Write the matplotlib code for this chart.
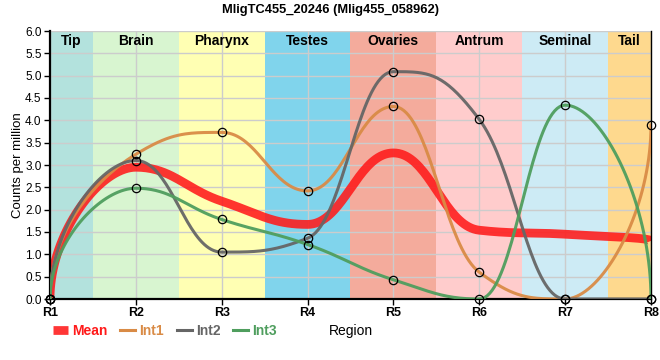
import numpy as np
import matplotlib
matplotlib.use('Agg')
import matplotlib.pyplot as plt
from matplotlib.lines import Line2D

plt.rcParams['font.family'] = ['Liberation Sans', 'DejaVu Sans']

# data
regions = ['R1', 'R2', 'R3', 'R4', 'R5', 'R6', 'R7', 'R8']
mean_cpm = [0.0, 2.95, 2.19, 1.67, 3.27, 1.54, 1.45, 1.30]
int1 = [0.0, 3.24, 3.73, 2.42, 4.31, 0.60, 0.0, 3.89]
int2 = [0.0, 3.10, 1.05, 1.36, 5.09, 4.02, 0.0, 0.0]
int3 = [0.0, 2.48, 1.78, 1.22, 0.43, 0.0, 4.34, 0.0]

band_names = ['Tip', 'Brain', 'Pharynx', 'Testes', 'Ovaries', 'Antrum', 'Seminal', 'Tail']
band_edges = [0, 0.5, 1.5, 2.5, 3.5, 4.5, 5.5, 6.5, 7]
band_colors = ['#b3e2dd', '#d8f5d0', '#ffffb3', '#80d4ec', '#f4ab9c', '#ffcccc', '#cdebf5', '#fed98e']


def smooth_curve(ys, f=0.42, n=40):
    # bezier spline through the points, flat at local extremes
    xs = np.arange(len(ys), dtype=float)
    m = len(ys)
    lc = [None] * m
    rc = [None] * m
    for i in range(1, m - 1):
        px, py = xs[i], ys[i]
        lx, ly = px + f * (xs[i - 1] - px), py + f * (ys[i - 1] - py)
        rx, ry = px + f * (xs[i + 1] - px), py + f * (ys[i + 1] - py)
        corr = (ry - ly) * (rx - px) / (rx - lx) + py - ry
        ly += corr
        ry += corr
        if ly > ys[i - 1] and ly > py:
            ly = max(ys[i - 1], py); ry = 2 * py - ly
        elif ly < ys[i - 1] and ly < py:
            ly = min(ys[i - 1], py); ry = 2 * py - ly
        if ry > ys[i + 1] and ry > py:
            ry = max(ys[i + 1], py); ly = 2 * py - ry
        elif ry < ys[i + 1] and ry < py:
            ry = min(ys[i + 1], py); ly = 2 * py - ry
        lc[i] = (lx, ly)
        rc[i] = (rx, ry)
    rc[0] = (xs[0], ys[0] + 0.5 * (ys[1] - ys[0]))
    lc[-1] = (xs[-1], ys[-1] + 0.5 * (ys[-2] - ys[-1]))
    t = np.linspace(0, 1, n)[:, None]
    out = []
    for i in range(m - 1):
        p0 = np.array([xs[i], ys[i]])
        p1 = np.array(rc[i])
        p2 = np.array(lc[i + 1])
        p3 = np.array([xs[i + 1], ys[i + 1]])
        seg = ((1 - t) ** 3) * p0 + 3 * ((1 - t) ** 2) * t * p1 + 3 * (1 - t) * t ** 2 * p2 + t ** 3 * p3
        out.append(seg if i == 0 else seg[1:])
    pts = np.vstack(out)
    return pts[:, 0], pts[:, 1]


fig = plt.figure(figsize=(6.6, 3.6), dpi=100)
ax = fig.add_axes([50 / 660, 1 - 299 / 360, 601 / 660, 268 / 360])

for i, name in enumerate(band_names):
    ax.axvspan(band_edges[i], band_edges[i + 1], color=band_colors[i], lw=0, zorder=0)
    ax.text((band_edges[i] + band_edges[i + 1]) / 2, 5.78, name, ha='center', va='center',
            fontsize=10, fontweight='bold', zorder=5)

ax.set_axisbelow(True)
ax.grid(True, color='#cccccc', lw=1)

x = np.arange(len(regions))
mx, my = smooth_curve(mean_cpm)
ax.plot(mx, my, color='#ff1a1a', lw=6.3, alpha=0.88, solid_capstyle='butt', zorder=2)

series = [(int1, '#d98b46'), (int2, '#666666'), (int3, '#4f9e5e')]
for vals, col in series:
    sx, sy = smooth_curve(vals)
    ax.plot(sx, sy, color=col, lw=2.2, alpha=0.95, zorder=3)
for vals, col in series:
    ax.plot(x, vals, 'o', ms=6, mfc='none', mec='black', mew=0.9, zorder=6, clip_on=False)

ax.set_xlim(0, 7)
ax.set_ylim(0, 6)
ax.set_xticks(x)
ax.set_xticklabels(regions, fontsize=9, fontweight='bold')
ax.set_yticks(np.arange(0, 6.01, 0.5))
ax.set_yticklabels([f'{v:.1f}' for v in np.arange(0, 6.01, 0.5)], fontsize=8.5)
ax.tick_params(axis='both', length=4, width=1, pad=2)

for s in ['left', 'bottom']:
    ax.spines[s].set_linewidth(1.6)
ax.spines['right'].set_linewidth(1.0)
ax.spines['top'].set_visible(False)

ax.set_ylabel('Counts per million', fontsize=9.5, labelpad=1)
ax.set_xlabel('Region', fontsize=10)
ax.xaxis.set_label_coords(0.5, -0.119)
ax.xaxis.label.set_va('center')

fig.suptitle('MligTC455_20246 (Mlig455_058962)', fontsize=9.3, fontweight='bold', y=0.988)

handles = [Line2D([], [], color='#ff1a1a', lw=6.3, alpha=0.88, solid_capstyle='butt'),
           Line2D([], [], color='#d98b46', lw=2.2),
           Line2D([], [], color='#666666', lw=2.2),
           Line2D([], [], color='#4f9e5e', lw=2.2)]
leg = fig.legend(handles, ['Mean', 'Int1', 'Int2', 'Int3'], loc='center left',
                 bbox_to_anchor=(50 / 660, 1 - 331 / 360), ncol=4, frameon=False,
                 fontsize=10, handlelength=1.1, handletextpad=0.3, columnspacing=0.9,
                 labelcolor='linecolor', borderaxespad=0, borderpad=0.2)
for txt in leg.get_texts():
    txt.set_fontweight('bold')

fig.savefig('out.png', dpi=100)
